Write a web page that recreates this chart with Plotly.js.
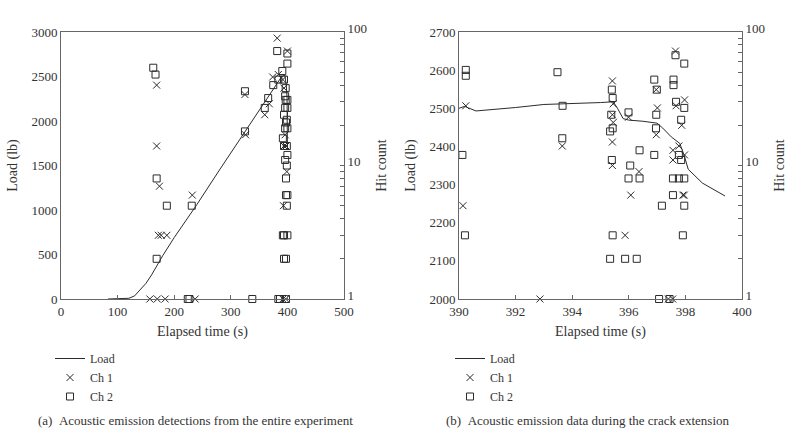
<!DOCTYPE html>
<html>
<head>
<meta charset="utf-8">
<script src="https://cdn.plot.ly/plotly-3.0.1.min.js"></script>
<style>html,body{margin:0;padding:0;background:#fff;}#chart{width:793px;height:441px;}</style>
</head>
<body>
<div id="chart"></div>
<script>
// ---- Panel (a): entire experiment ----
const loadA_t = [83,110,120,130,140,150,160,170,180,200,240,280,325,350,370,385,390,395.5,397,398,399.4,400];
const loadA   = [0,2,8,35,100,175,270,380,490,690,1060,1450,1880,2120,2300,2440,2500,2515,2460,2400,2270,1700];

const ch1A_t = [157,170,184,237,169,169,174,172,177,187,232,326,325,360,368,374,382,384,400,392,394,396,397.5,399,393,394,392,397];
const ch1A_h = [1,1,1,1,40,14,7,3,3,3,6,17,34,24,29,46,90,48,72,44,38,17,14,9,5,14,1,1];

const ch2A_t = [163,167,169,187,169,231,224,227,338,325,325,366,360,375,384,382,
  391,394,400,400,397,396,397,400,396,400,394,399,397.5,400,396,392,394,399,400,396,399,397.5,400,397.5,399,392,394,400,394,397.5,384,387,397.5];
const ch2A_h = [54,48,8,5,2,5,1,1,1,36,18,32,27,40,44,72,
  51,44,58,69,38,33,31,31,27,27,24,22,21,19,19,16,14,14,12,11,10,8,6,6,5,3,3,3,2,2,1,1,1];

// ---- Panel (b): crack extension ----
const loadB_t = [390,390.2,390.6,391,392,393,394,395,395.45,395.6,395.8,396,396.5,397,397.2,397.5,397.8,397.95,398.1,398.6,399.4];
const loadB   = [2500,2505,2493,2495,2502,2510,2512,2515,2517,2500,2473,2469,2466,2461,2448,2425,2408,2378,2340,2304,2270];

const ch1B_t = [390.24,390.14,392.86,393.65,395.42,395.42,395.42,395.45,395.45,395.42,395.87,396.07,395.99,396.36,396.97,397.01,396.97,
  397.65,397.67,397.97,397.87,397.77,397.56,397.56,397.97,397.96,397.91,397.4,397.55];
const ch1B_h = [28,5,1,14,43,15,10,29,21,24,3,6,23,9,37,27,17,
  72,28,31,20,14,13,11,12,6,6,1,1];

const ch2B_t = [390.24,390.24,390.12,390.21,393.48,393.65,393.66,
  395.34,395.4,395.43,395.38,395.43,395.4,395.43,395.34,395.87,396.28,
  395.99,396.05,395.99,396.38,396.38,
  396.9,396.99,396.97,396.96,396.9,397.17,397.07,397.44,
  397.58,397.58,397.65,397.67,397.85,397.96,397.96,397.77,397.85,397.56,397.77,397.96,397.56,397.96,397.91];
const ch2B_h = [52,47,12,3,50,16,28,
  18,37,32,24,19,11,3,2,2,2,
  25,10,8,13,8,
  44,37,24,19,12,5,1,1,
  44,40,67,30,22,58,27,12,11,8,8,8,6,5,3];

const seriesNames = ['Load','Ch 1','Ch 2'];
const captions = ['(a)\u2002Acoustic emission detections from the entire experiment','(b)\u2002Acoustic emission data during the crack extension'];
const logTickVals = [1,2,3,4,5,6,7,8,9,10,20,30,40,50,60,70,80,90,100];
const logTickText = logTickVals.map(v => (v===1||v===10||v===100) ? String(v) : '');

const FONT = 'Liberation Serif, Times New Roman, serif';
const INK = '#2b2b2b';
const AX = '#666666';

function lineTrace(x, y, xa, ya, leg) {
  return {x:x, y:y, xaxis:xa, yaxis:ya, type:'scatter', mode:'lines', name:seriesNames[0],
    line:{color:INK, width:1}, legend:leg, hoverinfo:'skip'};
}
function markTrace(x, y, xa, ya, leg, idx, sym) {
  return {x:x, y:y, xaxis:xa, yaxis:ya, type:'scatter', mode:'markers', name:seriesNames[idx],
    marker:{symbol:sym, size:7, color:INK, line:{color:INK, width:1}}, cliponaxis:false, legend:leg};
}

const data = [
  lineTrace(loadA_t, loadA, 'x', 'y', 'legend'),
  markTrace(ch1A_t, ch1A_h, 'x', 'y2', 'legend', 1, 'x-thin-open'),
  markTrace(ch2A_t, ch2A_h, 'x', 'y2', 'legend', 2, 'square-open'),
  lineTrace(loadB_t, loadB, 'x2', 'y3', 'legend2'),
  markTrace(ch1B_t, ch1B_h, 'x2', 'y4', 'legend2', 1, 'x-thin-open'),
  markTrace(ch2B_t, ch2B_h, 'x2', 'y4', 'legend2', 2, 'square-open')
];

const W = 793, H = 441;
const yDom = [(H-299)/H, (H-32)/H];
const tf = {family:FONT, size:13, color:'#333'};
const ttf = {family:FONT, size:14, color:'#333'};

function xAxis(dom, range, dtick, anchor) {
  return {domain:dom, range:range, dtick:dtick, tick0:range[0], anchor:anchor, showline:true, mirror:true,
    linecolor:AX, linewidth:1, ticks:'inside', ticklen:4, tickcolor:AX, showgrid:false, zeroline:false,
    tickfont:tf, title:{text:'Elapsed time (s)', font:ttf, standoff:8}};
}
function yAxis(range, dtick, anchor) {
  return {domain:yDom, range:range, dtick:dtick, anchor:anchor, showline:true, linecolor:AX, linewidth:1,
    ticks:'', showgrid:false, zeroline:false, tickfont:tf, title:{text:'Load (lb)', font:ttf, standoff:10}};
}
function logAxis(over, anchor) {
  return {overlaying:over, anchor:anchor, side:'right', type:'log', range:[0,2], showline:true, linecolor:AX,
    linewidth:1, tickvals:logTickVals, ticktext:logTickText, ticks:'inside', ticklen:4, tickcolor:AX,
    showgrid:false, zeroline:false, tickfont:tf, ticklabelshift:-4, title:{text:'Hit count', font:ttf, standoff:10}};
}
function legendAt(px) {
  return {x:px/W, xanchor:'left', y:(H-344)/H, yanchor:'top', font:{family:FONT, size:12, color:'#333'},
    bgcolor:'rgba(0,0,0,0)', borderwidth:0, tracegroupgap:0, itemclick:false};
}

const layout = {
  width:W, height:H, margin:{l:0, r:0, t:0, b:0}, paper_bgcolor:'#fff', plot_bgcolor:'#fff',
  showlegend:true, font:{family:FONT, color:'#333'},
  xaxis: xAxis([61/W, 344/W], [0,500], 100, 'y'),
  yaxis: yAxis([0,3000], 500, 'x'),
  yaxis2: logAxis('y', 'x'),
  xaxis2: xAxis([459/W, 742/W], [390,400], 2, 'y3'),
  yaxis3: yAxis([2000,2700], 100, 'x2'),
  yaxis4: logAxis('y3', 'x2'),
  legend: legendAt(50),
  legend2: legendAt(450),
  annotations: [
    {text:captions[0], x:195/W, y:(H-420)/H, xref:'paper', yref:'paper', showarrow:false, xanchor:'center', yanchor:'middle', font:{family:FONT, size:13, color:'#333'}},
    {text:captions[1], x:588/W, y:(H-420)/H, xref:'paper', yref:'paper', showarrow:false, xanchor:'center', yanchor:'middle', font:{family:FONT, size:13, color:'#333'}}
  ]
};

Plotly.newPlot('chart', data, layout, {staticPlot:true, displayModeBar:false});
</script>
</body>
</html>
